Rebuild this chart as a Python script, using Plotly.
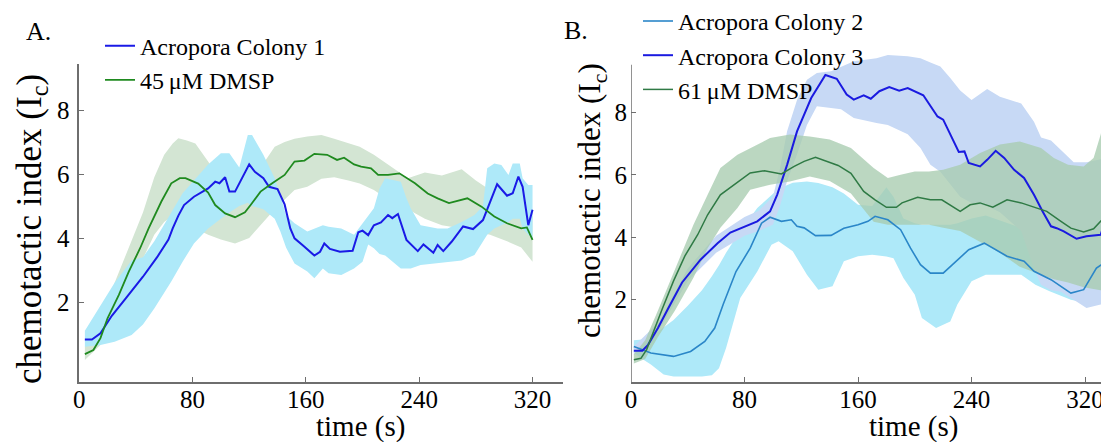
import plotly.graph_objects as go

# ---------------- data: panel A ----------------
c1_t = [4, 9, 15, 23, 33, 45, 55, 63, 66, 70, 74, 81, 91, 96, 99, 103, 106, 110, 120, 124,
        130, 134, 140, 145, 149, 152, 159, 166, 170, 173, 177, 184, 193, 197, 200, 204, 208, 213, 218, 221,
        225, 231, 239, 243, 250, 253, 257, 263, 271, 278, 285, 290, 295, 302, 306, 310, 313, 317, 320]
c1_y = [0.83, 0.83, 1.02, 1.57, 2.12, 2.79, 3.40, 3.95, 4.30, 4.70, 5.03, 5.29, 5.55, 5.76, 5.71, 5.90, 5.45, 5.45, 6.30, 6.07,
        5.87, 5.60, 5.53, 5.05, 4.30, 3.99, 3.73, 3.45, 3.57, 3.83, 3.66, 3.57, 3.60, 4.18, 4.23, 4.09, 4.40, 4.49, 4.72, 4.62,
        4.75, 3.94, 3.59, 3.80, 3.54, 3.78, 3.59, 3.89, 4.36, 4.28, 4.56, 5.14, 5.68, 5.32, 5.40, 5.92, 5.60, 4.40, 4.88]

c1b_t = [4, 15, 25, 37, 45, 53, 60, 65, 73, 81, 91, 100, 106, 113, 119, 122, 130, 138, 142, 146,
         152, 161, 166, 172, 176, 185, 194, 200, 204, 208, 212, 216, 227, 231, 234, 241, 253, 260, 270, 279,
         285, 288, 293, 298, 303, 306, 311, 313, 317, 320]
c1b_hi = [1.1, 1.9, 2.6, 3.3, 3.4, 3.9, 4.4, 4.8, 5.4, 5.8, 6.3, 6.65, 6.65, 6.2, 7.22, 7.22, 6.6, 5.87, 5.34, 4.7,
          4.46, 4.2, 4.3, 4.4, 4.35, 4.3, 4.1, 4.45, 4.7, 4.93, 5.55, 5.87, 5.76, 5.24, 4.93, 4.4, 4.3, 4.3, 4.5, 4.72,
          5.0, 6.18, 6.33, 6.28, 5.97, 6.33, 6.33, 5.87, 5.66, 5.66]
c1b_lo = [0.6, 0.66, 0.76, 0.97, 1.3, 1.8, 2.3, 2.64, 3.26, 3.83, 4.3, 4.6, 4.8, 5.0, 5.1, 5.0, 4.9, 4.6, 4.2, 3.7,
          3.2, 2.95, 2.74, 3.05, 2.9, 2.84, 3.05, 3.26, 3.8, 3.68, 3.5, 3.45, 3.05, 3.05, 3.05, 3.16, 3.2, 3.25, 3.3, 3.47,
          3.9, 4.1, 4.3, 4.4, 4.5, 4.6, 4.6, 4.3, 4.1, 4.0]

g1_t = [4, 10, 15, 20, 28, 35, 43, 49, 58, 65, 71, 75, 84, 91, 96, 103, 110, 117, 121, 128,
        136, 145, 152, 159, 166, 175, 182, 187, 194, 199, 206, 211, 218, 226, 237, 246, 253, 261, 274, 284,
        293, 302, 312, 316, 320]
g1_y = [0.37, 0.5, 0.87, 1.49, 2.22, 2.95, 3.68, 4.3, 5.14, 5.71, 5.87, 5.87, 5.7, 5.42, 5.03, 4.77, 4.65, 4.8, 5.03, 5.45,
        5.7, 5.97, 6.39, 6.42, 6.63, 6.6, 6.44, 6.51, 6.3, 6.23, 6.18, 5.97, 5.97, 6.02, 5.71, 5.39, 5.24, 5.09, 5.24, 4.98,
        4.67, 4.46, 4.3, 4.33, 3.94]

g1b_t = [4, 15, 25, 35, 45, 53, 60, 66, 70, 76, 82, 91, 100, 110, 120, 130, 138, 145, 152, 161,
         171, 180, 190, 198, 208, 218, 232, 244, 256, 270, 280, 290, 302, 312, 320]
g1b_hi = [0.6, 1.4, 2.6, 3.7, 4.8, 5.9, 6.6, 6.95, 7.12, 7.05, 6.95, 6.39, 5.8, 5.5, 5.7, 6.33, 6.85, 7.0, 7.1, 7.17,
          7.22, 7.1, 6.96, 6.85, 6.6, 6.3, 5.87, 6.05, 5.95, 6.15, 5.8, 5.5, 5.3, 5.1, 4.9]
g1b_lo = [0.19, 0.66, 1.49, 2.43, 3.37, 4.1, 4.5, 4.7, 4.75, 4.6, 4.3, 4.1, 3.95, 3.83, 4.0, 4.5, 4.9, 5.2, 5.5, 5.6,
          5.85, 5.9, 5.8, 5.7, 5.5, 5.2, 4.9, 4.6, 4.4, 4.3, 4.2, 4.1, 3.9, 3.7, 3.26]

# ---------------- data: panel B ----------------
c2_t = [2, 14, 30, 42, 52, 59, 65, 74, 84, 92, 98, 106, 113, 117, 122, 130, 141, 150, 160, 167,
        172, 181, 190, 197, 204, 211, 220, 230, 238, 249, 253, 265, 277, 284, 296, 310, 319, 328, 334, 340]
c2_y = [0.5, 0.29, 0.18, 0.34, 0.66, 1.09, 1.85, 2.9, 3.65, 4.45, 4.64, 4.51, 4.56, 4.35, 4.3, 4.05, 4.06, 4.29, 4.4, 4.51,
        4.67, 4.56, 4.24, 3.65, 3.12, 2.85, 2.85, 3.28, 3.6, 3.81, 3.71, 3.39, 3.23, 2.91, 2.64, 2.21, 2.32, 3.01, 3.2, 3.55]
c2b_t = [2, 8, 14, 23, 30, 40, 50, 57, 62, 67, 77, 89, 99, 104, 114, 124, 132, 142, 150, 160,
         170, 180, 185, 192, 200, 205, 215, 225, 230, 240, 250, 262, 275, 285, 295, 310, 320, 330, 340]
c2b_hi = [0.7, 0.72, 0.8, 1.1, 1.35, 1.8, 2.3, 2.75, 3.1, 3.5, 4.2, 4.94, 5.36, 5.55, 5.75, 5.79, 5.74, 5.6, 5.4, 5.04,
          5.0, 5.6, 5.3, 4.6, 4.45, 4.4, 4.4, 4.4, 4.45, 4.6, 4.7, 4.5, 4.3, 4.0, 3.6, 3.0, 2.9, 3.4, 4.0]
c2b_lo = [0.3, 0.1, -0.08, -0.4, -0.46, -0.46, -0.46, -0.42, -0.2, 0.45, 2.05, 2.9, 3.76, 3.87, 3.55, 2.8, 2.32, 2.43, 3.23, 3.39,
          3.44, 3.38, 3.33, 2.69, 2.16, 1.41, 1.09, 1.3, 1.84, 2.59, 2.8, 2.8, 2.8, 2.48, 2.27, 2.0, 1.9, 2.3, 2.8]

c3_t = [2, 8, 12, 19, 26, 36, 49, 61, 70, 80, 89, 98, 103, 110, 117, 127, 137, 145, 152, 157,
        164, 169, 175, 182, 189, 195, 206, 216, 220, 231, 235, 238, 246, 251, 257, 263, 270, 277, 284, 290,
        296, 300, 305, 314, 321, 331, 335, 340]
c3_y = [0.36, 0.36, 0.55, 1.09, 1.7, 2.55, 3.28, 3.81, 4.15, 4.35, 4.51, 4.83, 5.36, 6.32, 7.39, 8.46, 9.2, 9.08, 8.57, 8.41,
        8.55, 8.44, 8.68, 8.81, 8.7, 8.78, 8.55, 7.87, 7.77, 6.73, 6.75, 6.38, 6.27, 6.48, 6.77, 6.54, 6.16, 5.9, 5.36, 4.83,
        4.35, 4.29, 4.19, 3.95, 4.03, 4.08, 4.64, 4.64]
c3b_t = [2, 20, 40, 60, 80, 90, 100, 105, 110, 117, 124, 131, 141, 148, 157, 173, 181, 195, 204, 211,
         218, 225, 232, 240, 251, 260, 275, 284, 289, 296, 303, 312, 321, 331, 336, 340]
c3b_hi = [0.5, 1.3, 3.0, 4.05, 4.65, 4.85, 5.3, 6.2, 7.4, 8.4, 9.05, 9.26, 9.32, 9.45, 9.64, 9.74, 9.84, 9.8, 9.74, 9.6,
          9.47, 9.1, 8.7, 8.4, 8.75, 8.5, 8.29, 7.7, 7.2, 7.1, 6.8, 6.4, 6.4, 6.5, 6.5, 6.5]
c3b_lo = [0.22, 1.05, 2.6, 3.5, 4.05, 4.2, 4.4, 5.0, 5.8, 6.65, 7.6, 8.2, 8.14, 8.1, 7.82, 7.66, 7.6, 7.3, 6.86, 6.32,
          6.1, 5.7, 5.3, 5.1, 5.0, 4.8, 4.2, 3.0, 2.48, 2.3, 2.25, 2.0, 1.73, 1.84, 2.0, 2.3]

g2_t = [2, 7, 11, 16, 22, 30, 38, 47, 54, 63, 73, 84, 94, 106, 115, 122, 130, 134, 146, 155,
        164, 172, 180, 187, 191, 202, 211, 219, 232, 239, 246, 255, 265, 275, 284, 293, 303, 310, 319, 326,
        332, 337, 340]
g2_y = [0.07, 0.12, 0.4, 1.0, 1.7, 2.6, 3.4, 4.08, 4.72, 5.36, 5.68, 6.06, 6.13, 6.03, 6.27, 6.43, 6.56, 6.5, 6.3, 6.05,
        5.47, 5.2, 4.96, 4.96, 5.1, 5.28, 5.2, 5.2, 4.83, 5.04, 5.1, 4.96, 5.2, 5.1, 4.96, 4.83, 4.51, 4.29, 4.17, 4.27,
        4.56, 5.26, 5.92]
g2b_t = [2, 10, 19, 31, 44, 54, 63, 75, 84, 98, 112, 126, 140, 155, 171, 181, 190, 200, 210, 220,
         232, 246, 260, 274, 289, 298, 308, 319, 326, 331, 336, 340]
g2b_hi = [0.25, 0.7, 1.65, 3.0, 4.4, 5.36, 6.22, 6.64, 6.86, 7.18, 7.29, 7.23, 7.13, 6.86, 6.22, 5.9, 6.0, 6.11, 6.11, 6.16,
          6.32, 6.7, 6.97, 7.07, 6.86, 6.54, 6.32, 6.27, 6.54, 7.29, 8.36, 9.05]
g2b_lo = [-0.05, 0.1, 0.8, 1.65, 2.7, 3.65, 4.3, 4.94, 5.52, 5.68, 5.79, 5.95, 5.8, 5.4, 4.5, 4.4, 4.4, 4.4, 4.4, 4.3,
          4.2, 3.85, 3.5, 3.05, 2.8, 2.65, 2.55, 2.4, 2.35, 2.3, 2.35, 2.5]

x_ticks = [0, 80, 160, 240, 320]
y_ticks = [2, 4, 6, 8]
y_axis_top_B = 9.53   # visible end of panel B's y axis line

names_A = ["Acropora Colony 1", "45\u2009\u03bcM DMSP"]
names_B = ["Acropora Colony 2", "Acropora Colony 3", "61\u2009\u03bcM DMSP"]

# ---------------- figure ----------------
W, H = 1109, 442
FONT = "Liberation Serif, Times New Roman, serif"
AXC = "#6e6e6e"


def band(t, hi, lo, color, xa, ya):
    return go.Scatter(x=list(t) + list(t)[::-1], y=list(hi) + list(lo)[::-1],
                      fill="toself", fillcolor=color, mode="lines",
                      line=dict(width=0, color=color), hoverinfo="skip",
                      showlegend=False, xaxis=xa, yaxis=ya)


def line(t, y, color, width, name, xa, ya, leg):
    return go.Scatter(x=t, y=y, mode="lines", name=name,
                      line=dict(color=color, width=width),
                      xaxis=xa, yaxis=ya, legend=leg)


CYAN = "#aee9f9"
GREEN_A = "#d3e5d3"
LAV = "#c7d9f5"
GREEN_B = "rgba(168,204,176,0.78)"

fig = go.Figure()
# panel A
fig.add_trace(band(g1b_t, g1b_hi, g1b_lo, GREEN_A, "x", "y"))
fig.add_trace(band(c1b_t, c1b_hi, c1b_lo, CYAN, "x", "y"))
fig.add_trace(line(c1_t, c1_y, "#1a1ae6", 2, names_A[0], "x", "y", "legend"))
fig.add_trace(line(g1_t, g1_y, "#1f8a1f", 1.8, names_A[1], "x", "y", "legend"))
# panel B
fig.add_trace(band(c2b_t, c2b_hi, c2b_lo, CYAN, "x2", "y2"))
fig.add_trace(band(c3b_t, c3b_hi, c3b_lo, LAV, "x2", "y2"))
fig.add_trace(band(g2b_t, g2b_hi, g2b_lo, GREEN_B, "x2", "y2"))
fig.add_trace(line(c2_t, c2_y, "#2a86c8", 1.6, names_B[0], "x2", "y2", "legend2"))
fig.add_trace(line(c3_t, c3_y, "#1a1ae0", 2, names_B[1], "x2", "y2", "legend2"))
fig.add_trace(line(g2_t, g2_y, "#2f7a45", 1.5, names_B[2], "x2", "y2", "legend2"))

axis_common = dict(linecolor=AXC, linewidth=1.5, ticks="inside", ticklen=5,
                   tickwidth=1.2, tickcolor=AXC, showgrid=False, zeroline=False,
                   tickfont=dict(family=FONT, size=25, color="black"))

ydomA = [1 - 374 / H, 1 - 55.6 / H]
# panel B: same 31.2 px/unit scale, range extended so the shaded band is not clipped
ydomB = [1 - 374 / H, 1 - (374 - 31.2 * (9.95 + 0.64)) / H]
fig.update_layout(
    width=W, height=H, margin=dict(l=0, r=0, t=0, b=0, autoexpand=False),
    paper_bgcolor="white", plot_bgcolor="white",
    font=dict(family=FONT, color="black"),
    xaxis=dict(domain=[71.2 / W, 555 / W], range=[0, 341.5], tickvals=x_ticks, anchor="y",
               showline=True, ticklabelstandoff=-6, **axis_common),
    yaxis=dict(domain=ydomA, range=[-0.5, 9.45], tickvals=y_ticks, anchor="x", showline=True,
               ticklabelstandoff=3, **axis_common),
    xaxis2=dict(domain=[623 / W, 1.0], range=[0, 342.5], tickvals=x_ticks, anchor="y2",
                showline=True, ticklabelstandoff=-6, **axis_common),
    yaxis2=dict(domain=ydomB, range=[-0.64, 9.95], tickvals=y_ticks, anchor="x2", showline=False,
                ticklabelstandoff=3, **axis_common),
    legend=dict(x=92 / W, y=1 - 15.6 / H, xanchor="left", yanchor="top", bgcolor="rgba(0,0,0,0)",
                font=dict(family=FONT, size=24, color="black")),
    legend2=dict(x=630 / W, y=1 + 9.1 / H, xanchor="left", yanchor="top", bgcolor="rgba(0,0,0,0)",
                 font=dict(family=FONT, size=24, color="black")),
    showlegend=True,
)

# y axis line of panel B (drawn only up to its visible end)
fig.add_shape(type="line", xref="x2", yref="y2", x0=0, x1=0, y0=-0.64, y1=y_axis_top_B,
              line=dict(color=AXC, width=1.5))

ann = [
    dict(text="A.", x=30 / W, y=1 - 23 / H, size=26, angle=0),
    dict(text="B.", x=568 / W, y=1 - 22 / H, size=26, angle=0),
    dict(text="time (s)", x=353 / W, y=1 - 418 / H, size=29, angle=0),
    dict(text="time (s)", x=905 / W, y=1 - 418 / H, size=29, angle=0),
    dict(text="chemotactic index (I<sub>c</sub>)", x=23 / W, y=1 - 221 / H, size=35, angle=-90),
    dict(text="chemotactic index (I<sub>c</sub>)", x=584 / W, y=1 - 193 / H, size=31, angle=-90),
]
for a in ann:
    fig.add_annotation(text=a["text"], x=a["x"], y=a["y"], xref="paper", yref="paper",
                       xanchor="center", yanchor="middle", showarrow=False, textangle=a["angle"],
                       font=dict(family=FONT, size=a["size"], color="black"))

fig.write_html("out.html")
